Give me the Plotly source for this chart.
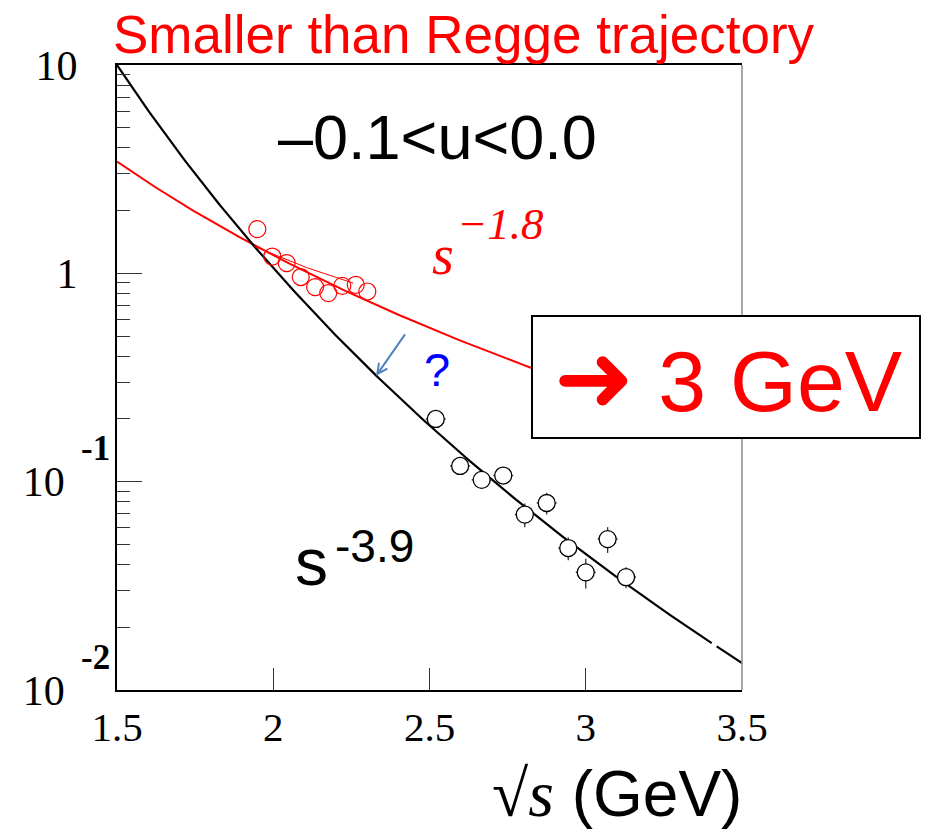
import numpy as np
import plotly.graph_objects as go

# Black points: sqrt(s) in GeV and cross section, with errors
black_x = [2.52, 2.598, 2.667, 2.736, 2.805, 2.875, 2.944, 3.0, 3.07, 3.129]
black_y = [0.200, 0.119, 0.102, 0.107, 0.0695, 0.079, 0.048, 0.0367, 0.053, 0.0348]
black_yerr = [0.012, 0.011, 0.009, 0.008, 0.009, 0.0095, 0.006, 0.006, 0.0075, 0.004]
black_xerr = [0.032] * 10

# Red points
red_x = [1.949, 1.997, 2.043, 2.088, 2.134, 2.176, 2.221, 2.264, 2.301]
red_y = [1.63, 1.204, 1.12, 0.96, 0.859, 0.804, 0.871, 0.881, 0.818]

# Local fit through the red points
redfit_x = [1.94, 2.107, 2.256]
redfit_y = [1.345, 1.065, 0.897]

# Power-law curves: d(sigma)/dt ~ s^n, with s = (sqrt s)^2
black_power = -3.9
black_norm = 10.0      # value at sqrt(s) = 1.5
red_power = -1.8
red_norm = 3.44        # value at sqrt(s) = 1.5
x_ref = 1.5

# black curve is drawn in two pieces with a small break near 3.4 GeV
black_piece1 = np.linspace(1.5, 3.403, 200)
black_piece2 = np.linspace(3.419, 3.5, 10)
bx = np.concatenate([black_piece1, [np.nan], black_piece2])
by = black_norm * (bx / x_ref) ** (2 * black_power)

rx = np.linspace(1.5, 3.0, 200)
ry = red_norm * (rx / x_ref) ** (2 * red_power)

x_ticks = [1.5, 2, 2.5, 3, 3.5]
x_ticktext = ["1.5", "2", "2.5", "3", "3.5"]
y_ticks = [0.01, 0.1, 1, 10]
# mantissas; the exponents of the two lower decades are set as raised labels
y_ticktext = ["10\u2003", "10\u2003", "1\u2002\u2009", "10\u2002\u2009"]
y_exponents = ["-2", "-1"]
y_exponent_at = [0.01, 0.1]
y_minor = [m * 10.0 ** e for e in (-2, -1, 0) for m in range(2, 10)]

fig = go.Figure()

fig.add_trace(go.Scatter(x=rx, y=ry, mode="lines",
                         line=dict(color="#ff0000", width=2), hoverinfo="skip"))
fig.add_trace(go.Scatter(x=bx, y=by, mode="lines",
                         line=dict(color="#000000", width=2.2), hoverinfo="skip",
                         connectgaps=False))
fig.add_trace(go.Scatter(x=redfit_x, y=redfit_y, mode="lines",
                         line=dict(color="#ff0000", width=1), hoverinfo="skip"))
fig.add_trace(go.Scatter(x=red_x, y=red_y, mode="markers",
                         marker=dict(symbol="circle-open", size=17,
                                     color="#ff0000", line=dict(width=1.2, color="#ff0000"))))
fig.add_trace(go.Scatter(
    x=black_x, y=black_y, mode="markers",
    marker=dict(symbol="circle", size=17, color="white",
                line=dict(width=1.3, color="#000000")),
    error_y=dict(type="data", array=black_yerr, color="#333333", thickness=1.3, width=0),
    error_x=dict(type="data", array=black_xerr, color="#333333", thickness=1.3, width=0),
))

W, H = 928, 830
L, R, T, B = 117, 186, 65, 140
pw, ph = W - L - R, H - T - B


def px(x):
    return (x - L) / pw


def py(y):
    return (H - B - y) / ph


fig.update_layout(
    width=W, height=H,
    margin=dict(l=L, r=R, t=T, b=B),
    paper_bgcolor="white", plot_bgcolor="white",
    showlegend=False,
    xaxis=dict(range=[1.5, 3.5], tickvals=x_ticks, ticktext=x_ticktext,
               ticks="inside", ticklen=22, tickwidth=1.2, tickcolor="#333333",
               showline=True, linecolor="#000000", linewidth=1.5, mirror=True,
               showgrid=False, zeroline=False,
               tickfont=dict(family="Liberation Serif", size=41, color="black")),
    yaxis=dict(type="log", range=[-2, 1], tickvals=y_ticks, ticktext=y_ticktext,
               ticks="inside", ticklen=25, tickwidth=1.2, tickcolor="#333333",
               showline=True, linecolor="#000000", linewidth=1.5, mirror=False,
               showgrid=False, zeroline=False,
               minor=dict(tickvals=y_minor, ticks="inside", ticklen=13,
                          tickwidth=1.2, tickcolor="#333333", showgrid=False),
               tickfont=dict(family="Liberation Serif", size=42, color="black")),
)

shapes = [
    dict(type="line", xref="paper", yref="paper", x0=1, x1=1, y0=0, y1=1,
         line=dict(color="#888888", width=1.5)),
    dict(type="rect", xref="paper", yref="paper",
         x0=px(532), x1=px(920), y0=py(438), y1=py(316),
         fillcolor="white", line=dict(color="#000000", width=2)),
]
fig.update_layout(shapes=shapes)

ann = []
# raised decade exponents beside the "10" mantissas
exp_shift = 10 ** (33 / (ph / 3))
for txt, val in zip(y_exponents, y_exponent_at):
    ann.append(dict(text="<b>%s</b>" % txt, xref="paper", yref="y",
                    x=px(112), y=np.log10(val * exp_shift), xanchor="right",
                    yanchor="middle", showarrow=False,
                    font=dict(family="Liberation Serif", size=35, color="black")))
ann.append(dict(text="Smaller than Regge trajectory", xref="paper", yref="paper",
                x=px(111), y=py(35), xanchor="left", yanchor="middle", showarrow=False,
                font=dict(family="Liberation Sans", size=53, color="#ff0000")))
ann.append(dict(text="\u20130.1<u<0.0", xref="paper", yref="paper",
                x=px(437), y=py(137), xanchor="center", yanchor="middle", showarrow=False,
                font=dict(family="Liberation Sans", size=63, color="black")))
ann.append(dict(text="<i>s</i>", xref="paper", yref="paper",
                x=px(443), y=py(255), xanchor="center", yanchor="middle", showarrow=False,
                font=dict(family="Liberation Serif", size=56, color="#ff0000")))
ann.append(dict(text="<i>\u22121.8</i>", xref="paper", yref="paper",
                x=px(455), y=py(224), xanchor="left", yanchor="middle", showarrow=False,
                font=dict(family="Liberation Serif", size=45, color="#ff0000")))
ann.append(dict(text="s", xref="paper", yref="paper",
                x=px(311), y=py(562), xanchor="center", yanchor="middle", showarrow=False,
                font=dict(family="Liberation Sans", size=66, color="black")))
ann.append(dict(text="-3.9", xref="paper", yref="paper",
                x=px(333), y=py(546), xanchor="left", yanchor="middle", showarrow=False,
                font=dict(family="Liberation Sans", size=46, color="black")))
ann.append(dict(text='<span style="font-family:DejaVu Sans;font-size:96px">\u279c</span> 3 GeV',
                xref="paper", yref="paper",
                x=px(728), y=py(378), xanchor="center", yanchor="middle", showarrow=False,
                font=dict(family="Liberation Sans", size=86, color="#ff0000")))
ann.append(dict(text="?", xref="paper", yref="paper",
                x=px(437), y=py(369), xanchor="center", yanchor="middle", showarrow=False,
                font=dict(family="Liberation Sans", size=47, color="#0000ff")))
ann.append(dict(text="", x=2.329, y=np.log10(0.322), xref="x", yref="y",
                showarrow=True, arrowhead=5, arrowsize=1, arrowwidth=2,
                arrowcolor="#4f81bd", ax=30, ay=-43, standoff=0))
ann.append(dict(
    text='<span style="font-family:Liberation Serif;font-size:66px">\u221a<i>s</i></span> (GeV)',
    xref="paper", yref="paper", x=px(744), y=py(793), xanchor="right", yanchor="middle",
    showarrow=False, font=dict(family="Liberation Sans", size=64, color="black")))
fig.update_layout(annotations=ann)

fig.write_html("out.html")
